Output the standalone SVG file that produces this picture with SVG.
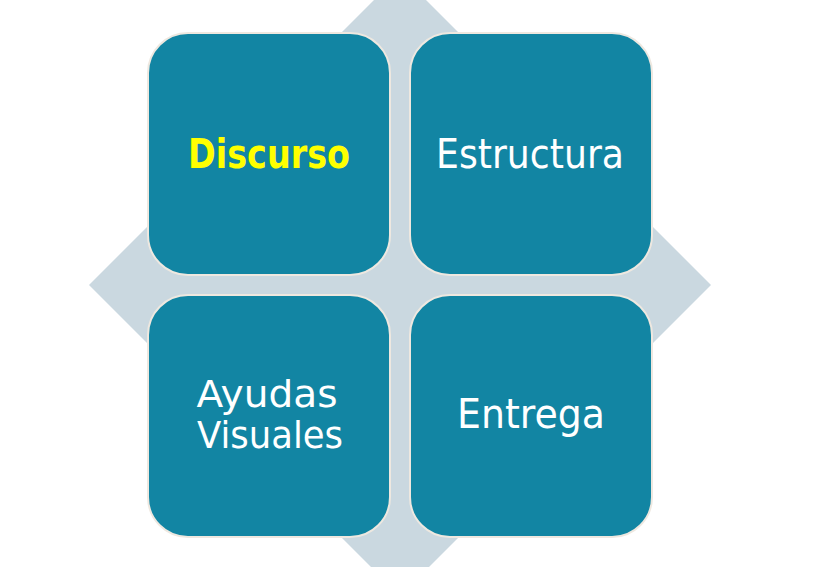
<svg xmlns="http://www.w3.org/2000/svg" width="827" height="567" viewBox="0 0 827 567">
<style>
.box{fill:#1285A3;stroke:#EEE8E0;stroke-width:2}
.t{font-family:"DejaVu Sans","Liberation Sans",sans-serif;fill:#FFFFFF;text-anchor:middle}
</style>
<rect width="827" height="567" fill="#FFFFFF"/>
<polygon id="diamond" points="400,-26 711,285 400,596 89,285" fill="#CAD8E0"/>
<g id="discurso">
<rect class="box" x="148" y="33" width="242" height="242" rx="40"/>
<text class="t" x="269" y="168" font-size="40" font-weight="bold" style="fill:#FFFF00" textLength="162" lengthAdjust="spacingAndGlyphs">Discurso</text>
</g>
<g id="estructura">
<rect class="box" x="410" y="33" width="242" height="242" rx="40"/>
<text class="t" x="530" y="168" font-size="40" textLength="188" lengthAdjust="spacingAndGlyphs">Estructura</text>
</g>
<g id="ayudas">
<rect class="box" x="148" y="295" width="242" height="242" rx="40"/>
<text class="t" x="267" y="407" font-size="38" textLength="141" lengthAdjust="spacingAndGlyphs">Ayudas</text>
<text class="t" x="270" y="448" font-size="38" textLength="146" lengthAdjust="spacingAndGlyphs">Visuales</text>
</g>
<g id="entrega">
<rect class="box" x="410" y="295" width="242" height="242" rx="40"/>
<text class="t" x="531" y="428" font-size="40" textLength="148" lengthAdjust="spacingAndGlyphs">Entrega</text>
</g>
<g id="connectors"></g>
</svg>
